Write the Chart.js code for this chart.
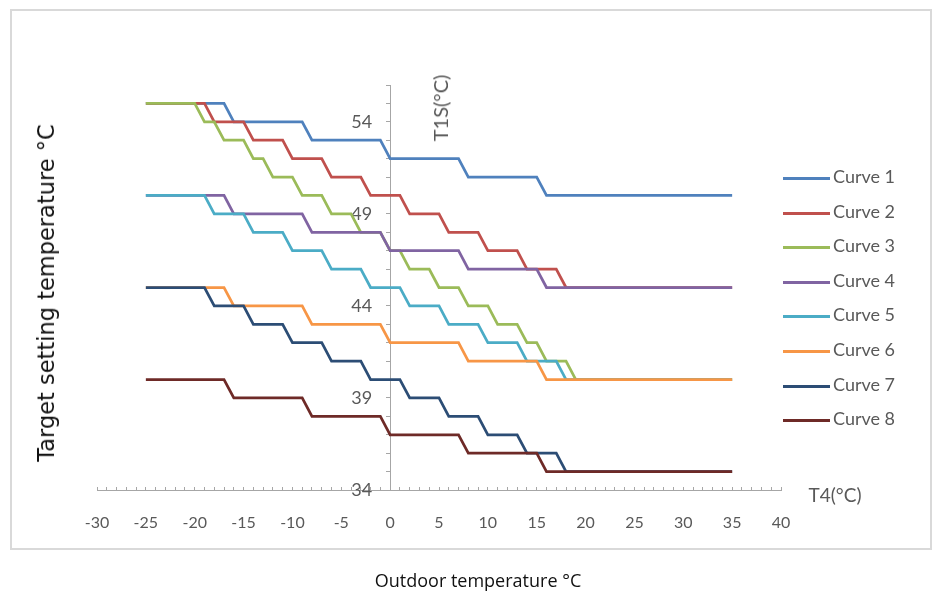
<!DOCTYPE html>
<html>
<head>
<meta charset="utf-8">
<script src="https://cdn.jsdelivr.net/npm/chart.js@4/dist/chart.umd.min.js"></script>
<style>
    body { margin: 0; background: #fff; }
    #wrap { position: relative; width: 937px; height: 595px; overflow: hidden; font-family: 'Open Sans', sans-serif; }
    #frame { position: absolute; left: 10px; top: 9px; width: 922px; height: 541px; border: 2px solid #d9d9d9; box-sizing: border-box; }
    #chart { position: absolute; left: 0; top: 0; }
    .lbl { position: absolute; white-space: nowrap; transform: translate(-50%, -50%); }
    .rot { transform: translate(-50%, -50%) rotate(-90deg); }
    #legend div { position: absolute; left: 783px; height: 20px; line-height: 20px; font-family: Lato, sans-serif; font-size: 18px; color: #595959; white-space: nowrap; }
    #legend span { display: inline-block; width: 47px; height: 3px; vertical-align: middle; margin-right: 3px; }
</style>
</head>
<body>
<div id="wrap">
    <div id="frame"></div>
    <canvas id="chart" width="937" height="595"></canvas>
    <div class="lbl rot" style="left:46px; top:293px; font-family:'DejaVu Sans', sans-serif; font-size:22.5px; color:#111;">Target setting temperature °C</div>
    <div class="lbl" style="left:478px; top:580px; font-size:18px; color:#111;">Outdoor temperature °C</div>
    <div class="lbl rot" style="left:440px; top:108px; font-family:Lato, sans-serif; font-size:20px; color:#595959;">T1S(°C)</div>
    <div class="lbl" style="left:835px; top:494px; font-family:Lato, sans-serif; font-size:19px; color:#595959;">T4(°C)</div>
    <div id="legend"></div>
</div>
<script>
// break points [T4, T1S]
const curve1 = [[-25, 55], [-17, 55], [-16, 54], [-9, 54], [-8, 53], [-1, 53], [0, 52], [7, 52], [8, 51], [15, 51], [16, 50], [35, 50]];
const curve2 = [[-25, 55], [-19, 55], [-18, 54], [-15, 54], [-14, 53], [-11, 53], [-10, 52], [-7, 52], [-6, 51], [-3, 51], [-2, 50], [1, 50], [2, 49], [5, 49], [6, 48], [9, 48], [10, 47], [13, 47], [14, 46], [17, 46], [18, 45], [35, 45]];
const curve3 = [[-25, 55], [-20, 55], [-19, 54], [-18, 54], [-17, 53], [-15, 53], [-14, 52], [-13, 52], [-12, 51], [-10, 51], [-9, 50], [-7, 50], [-6, 49], [-4, 49], [-3, 48], [-1, 48], [0, 47], [1, 47], [2, 46], [4, 46], [5, 45], [7, 45], [8, 44], [10, 44], [11, 43], [13, 43], [14, 42], [15, 42], [16, 41], [18, 41], [19, 40], [35, 40]];
const curve4 = [[-25, 50], [-17, 50], [-16, 49], [-9, 49], [-8, 48], [-1, 48], [0, 47], [7, 47], [8, 46], [15, 46], [16, 45], [35, 45]];
const curve5 = [[-25, 50], [-19, 50], [-18, 49], [-15, 49], [-14, 48], [-11, 48], [-10, 47], [-7, 47], [-6, 46], [-3, 46], [-2, 45], [1, 45], [2, 44], [5, 44], [6, 43], [9, 43], [10, 42], [13, 42], [14, 41], [17, 41], [18, 40], [35, 40]];
const curve6 = [[-25, 45], [-17, 45], [-16, 44], [-9, 44], [-8, 43], [-1, 43], [0, 42], [7, 42], [8, 41], [15, 41], [16, 40], [35, 40]];
const curve7 = [[-25, 45], [-19, 45], [-18, 44], [-15, 44], [-14, 43], [-11, 43], [-10, 42], [-7, 42], [-6, 41], [-3, 41], [-2, 40], [1, 40], [2, 39], [5, 39], [6, 38], [9, 38], [10, 37], [13, 37], [14, 36], [17, 36], [18, 35], [35, 35]];
const curve8 = [[-25, 40], [-17, 40], [-16, 39], [-9, 39], [-8, 38], [-1, 38], [0, 37], [7, 37], [8, 36], [15, 36], [16, 35], [35, 35]];

const names = ['Curve 1', 'Curve 2', 'Curve 3', 'Curve 4', 'Curve 5', 'Curve 6', 'Curve 7', 'Curve 8'];
const curves = [curve1, curve2, curve3, curve4, curve5, curve6, curve7, curve8];
const colors = ['#4f81bd', '#c0504d', '#9bbb59', '#8064a2', '#4bacc6', '#f79646', '#2c4d75', '#6e2a27'];

const xMin = -30, xMax = 40;
const yMin = 34, yMax = 56;

const axisColor = '#a6a6a6';
const tickColor = '#595959';

var datasets = [];
for (var i = 0; i < curves.length; i++) {
    datasets.push({
        label: names[i],
        data: curves[i],
        borderColor: colors[i],
        backgroundColor: colors[i],
        borderWidth: 2.75,
        pointRadius: 0,
        tension: 0,
        fill: false,
        order: curves.length - i   // later curves drawn on top, like the original
    });
}

const ctx = document.getElementById('chart');

var chart = new Chart(ctx, {
    type: 'line',
    data: { datasets: datasets },
    options: {
        responsive: false,
        animation: false,
        layout: {
            padding: { left: 97, right: 156, top: 85, bottom: 105 }
        },
        plugins: {
            legend: { display: false },
            tooltip: { enabled: false }
        },
        scales: {
            x: {
                type: 'linear',
                position: { y: yMin },
                min: xMin,
                max: xMax,
                ticks: {
                    stepSize: 1,
                    autoSkip: false,
                    maxRotation: 0,
                    padding: 27,
                    color: tickColor,
                    font: { family: 'Lato, sans-serif', size: 16 },
                    callback: function (v) { return v % 5 === 0 ? v : ''; }
                },
                grid: {
                    drawOnChartArea: false,
                    tickLength: -4,
                    color: axisColor
                },
                border: { color: axisColor, width: 1 }
            },
            // the T1S axis line and its small ticks, crossing at T4 = 0
            y: {
                type: 'linear',
                position: { x: 0 },
                min: yMin,
                max: yMax,
                ticks: {
                    stepSize: 1,
                    autoSkip: false,
                    callback: function () { return ''; }
                },
                grid: {
                    drawOnChartArea: false,
                    tickLength: 4,
                    color: axisColor
                },
                border: { color: axisColor, width: 1 }
            },
            // labels of the T1S axis, set a little left of the line
            yLabels: {
                type: 'linear',
                position: { x: -1.85 },
                min: yMin,
                max: yMax,
                ticks: {
                    stepSize: 1,
                    autoSkip: false,
                    color: tickColor,
                    font: { family: 'Lato, sans-serif', size: 18 },
                    callback: function (v) { return (v - yMin) % 5 === 0 ? v : ''; }
                },
                grid: { display: false },
                border: { display: false }
            }
        }
    }
});

// legend on the right, same look as the original
const legendEl = document.getElementById('legend');
for (var j = 0; j < names.length; j++) {
    var item = document.createElement('div');
    item.style.top = (166 + j * 34.6) + 'px';
    item.innerHTML = '<span style="background:' + colors[j] + '"></span>' + names[j];
    legendEl.appendChild(item);
}
</script>
</body>
</html>
